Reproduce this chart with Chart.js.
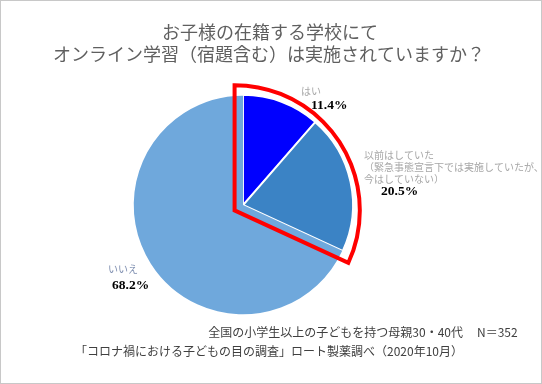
<!DOCTYPE html>
<html>
<head>
<meta charset="utf-8">
<script src="https://cdn.jsdelivr.net/npm/chart.js@4"></script>
<style>
  html, body { margin: 0; padding: 0; background: #fff; }
  #wrap { width: 540px; height: 382px; border: 1px solid #c8c8c8; position: relative; }
</style>
</head>
<body>
<div id="wrap"><canvas id="pieChart" width="540" height="382"></canvas></div>
<script>
// データ
const categories = ['はい', '以前はしていた', 'いいえ'];
const values = [11.4, 20.5, 68.2];
const labelLines = [
  ['はい'],
  ['以前はしていた', '（緊急事態宣言下では実施していたが、', '今はしていない）'],
  ['いいえ']
];
const titleLines = ['お子様の在籍する学校にて', 'オンライン学習（宿題含む）は実施されていますか？'];
const footerLines = ['全国の小学生以上の子どもを持つ母親30・40代', '「コロナ禍における子どもの目の調査」ロート製薬調べ（2020年10月）'];
const sampleSize = 'N＝352';

const colors = ['#0000ff', '#3b83c5', '#6fa8dc'];
const JP = '"Noto Sans CJK JP", "Noto Sans", sans-serif';

// ラベル位置（円の中心からの相対位置）
const labelPos = [
  { tx: 58, ty: -114, px: 68, py: -99 },
  { tx: 121, ty: -50, px: 138, py: -13 },
  { tx: -135, ty: 64, px: -131, py: 81 }
];

// タイトル・赤枠・ラベル・注記を描くプラグイン
const overlay = {
  id: 'overlay',
  afterDatasetsDraw(chart) {
    const ctx = chart.ctx;
    const arcs = chart.getDatasetMeta(0).data;
    const a0 = arcs[0], a1 = arcs[1];
    const cx = a0.x, cy = a0.y, R = a0.outerRadius;

    // タイトル
    ctx.save();
    ctx.fillStyle = '#5f5f5f';
    ctx.font = '18px ' + JP;
    ctx.textAlign = 'center';
    ctx.textBaseline = 'middle';
    ctx.fillText(titleLines[0], 269, 31);
    ctx.fillText(titleLines[1], 268, 53);
    ctx.restore();

    // 赤枠（はい + 以前はしていた）
    const start = a0.startAngle, end = a1.endAngle;
    const mid = (start + end) / 2;
    const d = 10;
    const ax = cx - Math.cos(mid) * d, ay = cy - Math.sin(mid) * d;
    ctx.save();
    ctx.beginPath();
    ctx.moveTo(ax, ay);
    ctx.arc(ax, ay, R + d + 6, start, end);
    ctx.closePath();
    ctx.strokeStyle = '#ff0000';
    ctx.lineWidth = 4;
    ctx.lineJoin = 'miter';
    ctx.stroke();
    ctx.restore();

    // ラベル
    ctx.save();
    ctx.textBaseline = 'middle';
    ctx.textAlign = 'left';
    values.forEach((v, i) => {
      const p = labelPos[i];
      ctx.fillStyle = i === 2 ? '#7f8fb0' : '#a6a6a6';
      ctx.font = '10px ' + JP;
      labelLines[i].forEach((line, j) => {
        ctx.fillText(line, cx + p.tx, cy + p.ty + j * 12);
      });
      ctx.fillStyle = '#000';
      ctx.font = 'bold 13.5px "Liberation Serif", "DejaVu Serif", serif';
      ctx.fillText(v.toFixed(1) + '%', cx + p.px, cy + p.py);
    });
    ctx.restore();

    // 注記
    ctx.save();
    ctx.fillStyle = '#404040';
    ctx.font = '12px ' + JP;
    ctx.textBaseline = 'middle';
    ctx.textAlign = 'right';
    ctx.fillText(footerLines[0], 462, 331);
    ctx.fillText(footerLines[1], 462, 350);
    ctx.textAlign = 'left';
    ctx.fillText(sampleSize, 476, 331);
    ctx.restore();
  }
};

new Chart(document.getElementById('pieChart').getContext('2d'), {
  type: 'pie',
  data: {
    labels: categories,
    datasets: [{
      data: values,
      backgroundColor: colors,
      borderColor: '#ffffff',
      borderWidth: [1.5, 1.5, 0],
      offset: [2, 2, 0]
    }]
  },
  options: {
    responsive: false,
    animation: false,
    layout: { padding: { top: 93, bottom: 67, left: 130, right: 186 } },
    plugins: {
      legend: { display: false },
      tooltip: { enabled: false },
      title: { display: false }
    }
  },
  plugins: [overlay]
});
</script>
</body>
</html>
